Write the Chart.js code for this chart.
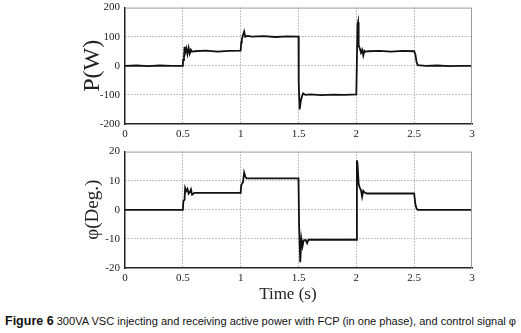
<!DOCTYPE html>
<html>
<head>
<meta charset="utf-8">
<script src="https://cdn.jsdelivr.net/npm/chart.js@4"></script>
<style>
  body { margin: 0; background: #fff; width: 521px; height: 333px; position: relative; overflow: hidden; }
  #top { position: absolute; left: 0; top: -4px; }
  #bottom { position: absolute; left: 0; top: 140px; }
  #caption { position: absolute; left: 5px; top: 314px; white-space: nowrap;
    font-family: "Liberation Sans", Arial, sans-serif; font-size: 11.05px; color: #111; }
  #caption b { font-size: 12.5px; }
</style>
</head>
<body>
<canvas id="top" width="521" height="144"></canvas>
<canvas id="bottom" width="521" height="165"></canvas>
<div id="caption"><b>Figure 6</b> 300VA VSC injecting and receiving active power with FCP (in one phase), and control signal φ</div>
<script>
const timeTicks = [0, 0.5, 1, 1.5, 2, 2.5, 3];

const pTime = [0, 0.1, 0.2, 0.3, 0.4, 0.5, 0.502, 0.51, 0.515, 0.52, 0.53, 0.54, 0.55, 0.56, 0.57, 0.58, 0.6, 0.7, 0.8, 0.9,
  1.0, 1.005, 1.01, 1.02, 1.03, 1.04, 1.06, 1.1, 1.2, 1.3, 1.4,
  1.5, 1.502, 1.51, 1.52, 1.53, 1.54, 1.56, 1.6, 1.7, 1.8, 1.9,
  2.0, 2.01, 2.015, 2.02, 2.03, 2.04, 2.05, 2.06, 2.07, 2.08, 2.1, 2.2, 2.3, 2.4,
  2.5, 2.51, 2.52, 2.53, 2.6, 2.7, 2.8, 2.9, 3.0];
const power = [0, 1, -1, 1, 0, 0, 20, 30, 65, 45, 60, 40, 62, 42, 55, 48, 50, 52, 49, 51,
  52, 80, 90, 105, 118, 100, 103, 100, 102, 99, 101,
  100, -60, -150, -120, -105, -95, -100, -98, -101, -99, -100,
  -98, 140, 150, 70, 60, 45, 55, 35, 52, 48, 50, 51, 49, 51,
  50, 40, 15, 2, 0, 1, -1, 0, 0];

const phiTime = [0, 0.5, 0.505, 0.515, 0.52, 0.53, 0.54, 0.55, 0.56, 0.57, 0.58, 0.6,
  1.0, 1.005, 1.02, 1.03, 1.04, 1.05,
  1.5, 1.505, 1.515, 1.525, 1.535, 1.545, 1.56, 1.575, 1.585,
  2.0, 2.005, 2.01, 2.02, 2.03, 2.04, 2.05, 2.06, 2.07, 2.09,
  2.5, 2.51, 2.52, 2.53, 3.0];
const phi = [0, 0, 3, 3.5, 7.5, 6.5, 7.2, 5.5, 6, 7, 5.2, 5.8,
  5.8, 8.5, 9.5, 12.8, 11.5, 10.8,
  10.8, -5, -18, -10, -12.5, -10.5, -10.3, -11.5, -10.3,
  -10.3, 17, 16, 9, 7.5, 6.8, 4.5, 6.5, 6, 5.6,
  5.6, 2, 0.5, 0, 0];

const serif = '"Liberation Serif", "DejaVu Serif", serif';

// box round the plot area, like the matlab axes
const frame = {
  id: 'frame',
  afterDraw(chart) {
    const { ctx, chartArea: a } = chart;
    ctx.save();
    ctx.strokeStyle = '#999';
    ctx.lineWidth = 1;
    ctx.beginPath();
    ctx.moveTo(a.left, a.top + 0.5);
    ctx.lineTo(a.right - 0.5, a.top + 0.5);
    ctx.lineTo(a.right - 0.5, a.bottom);
    ctx.stroke();
    ctx.restore();
  }
};

function makeChart(id, xs, ys, yMin, yMax, yStep, yTitle, yTitleSize, xHeight, xTitle) {
  const inner = (ctx) => (ctx.tick && (ctx.tick.value === ctx.scale.min || ctx.tick.value === ctx.scale.max)) ? 'rgba(0,0,0,0)' : '#888';
  return new Chart(document.getElementById(id).getContext('2d'), {
    type: 'line',
    data: {
      datasets: [{
        data: xs.map((t, i) => ({ x: t, y: ys[i] })),
        borderColor: '#111',
        borderWidth: 1.8,
        pointRadius: 0,
        tension: 0,
      }],
    },
    options: {
      responsive: false,
      animation: false,
      layout: { padding: { top: 0, right: 49, left: 0, bottom: 0 } },
      plugins: { legend: { display: false }, tooltip: { enabled: false } },
      scales: {
        x: {
          type: 'linear',
          min: 0,
          max: 3,
          afterBuildTicks: (s) => { s.ticks = timeTicks.map((v) => ({ value: v })); },
          afterFit: (s) => { s.height = xHeight; },
          grid: { color: inner, lineWidth: 1, drawTicks: false },
          border: { color: '#222', width: 1.5, dash: [1, 2] },
          ticks: { padding: 4, color: '#222', font: { family: serif, size: 11 }, maxRotation: 0, callback: (v) => String(v) },
          title: { display: !!xTitle, text: xTitle, color: '#222', font: { family: serif, size: 17 }, padding: { top: 0, bottom: 0 } },
        },
        y: {
          min: yMin,
          max: yMax,
          ticks: { stepSize: yStep, padding: 5, color: '#222', font: { family: serif, size: 11 } },
          afterFit: (s) => { s.width = 125; },
          grid: { color: inner, lineWidth: 1, drawTicks: false },
          border: { color: '#222', width: 1.5, dash: [1, 2] },
          title: { display: true, text: yTitle, color: '#222', font: { family: serif, size: yTitleSize }, padding: { top: 93 - yTitleSize * 0.6, bottom: 0 } },
        },
      },
    },
    plugins: [frame],
  });
}

makeChart('top', pTime, power, -200, 200, 100, 'P(W)', 24, 16, '');
makeChart('bottom', phiTime, phi, -20, 20, 10, 'φ(Deg.)', 19, 37, 'Time (s)     ');
</script>
</body>
</html>
